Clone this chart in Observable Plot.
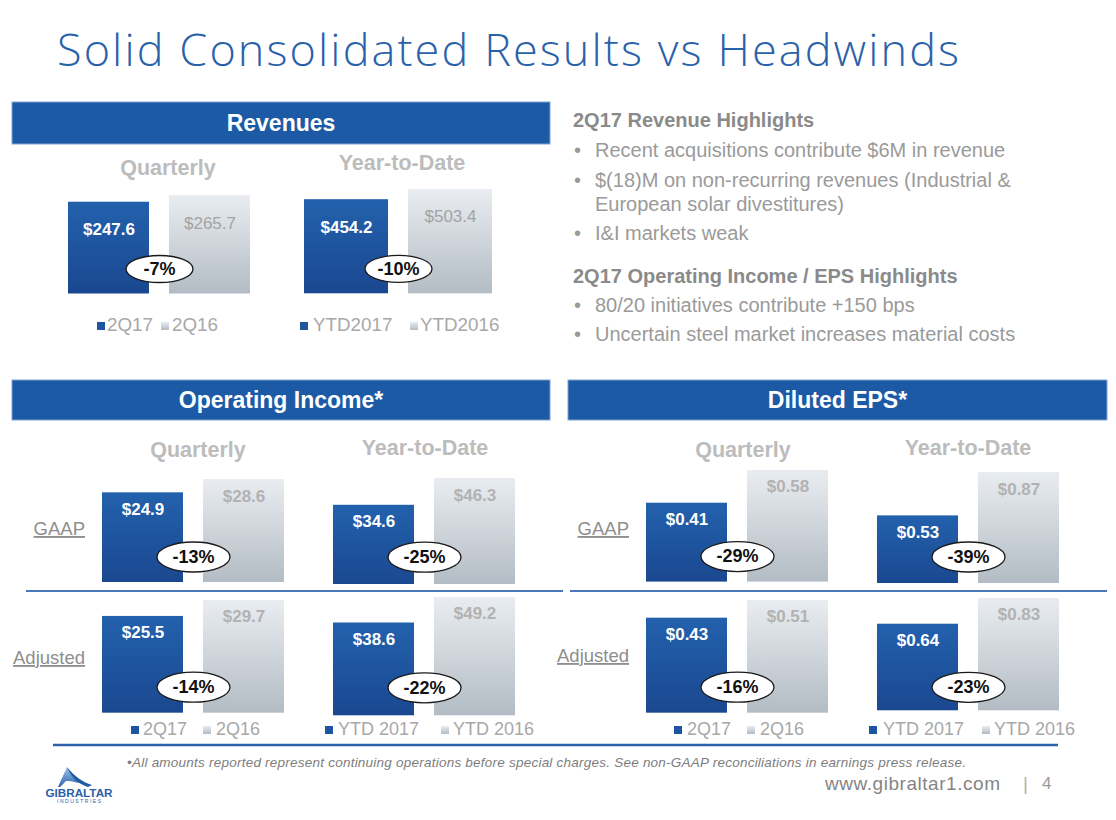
<!DOCTYPE html>
<html><head><meta charset="utf-8">
<script src="https://cdn.jsdelivr.net/npm/d3@7"></script>
<script src="https://cdn.jsdelivr.net/npm/@observablehq/plot@0.6"></script>
<style>
body{margin:0;background:#fff;}
#slide{position:relative;width:1116px;height:820px;overflow:hidden;background:#fff;font-family:"Liberation Sans",Arial,sans-serif;}
#slide svg.plotc{position:absolute;}
</style></head>
<body><div id="slide"></div>
<script>
// ---------- data ----------
const revQuarterCats = ["2Q17", "2Q16"];
const revYtdCats = ["YTD2017", "YTD2016"];
const quarterCats = ["2Q17", "2Q16"];
const ytdCats = ["YTD 2017", "YTD 2016"];
const revQuarterly = [247.6, 265.7];
const revYtd = [454.2, 503.4];
const revChange = ["-7%", "-10%"];
const oiGaapQuarterly = [24.9, 28.6];
const oiGaapYtd = [34.6, 46.3];
const oiAdjQuarterly = [25.5, 29.7];
const oiAdjYtd = [38.6, 49.2];
const oiGaapChange = ["-13%", "-25%"];
const oiAdjChange = ["-14%", "-22%"];
const epsGaapQuarterly = [0.41, 0.58];
const epsGaapYtd = [0.53, 0.87];
const epsAdjQuarterly = [0.43, 0.51];
const epsAdjYtd = [0.64, 0.83];
const epsGaapChange = ["-29%", "-39%"];
const epsAdjChange = ["-16%", "-23%"];
const revenueHighlights = ["Recent acquisitions contribute $6M in revenue", "$(18)M on non-recurring revenues (Industrial &", "European solar divestitures)", "I&I markets weak"];
const oiHighlights = ["80/20 initiatives contribute +150 bps", "Uncertain steel market increases material costs"];

const FONT = "Liberation Sans, Arial, sans-serif";
const slide = document.getElementById("slide");

// ---------- overlay (text & decoration) ----------
const svg = d3.select(slide).append("svg").attr("width", 1116).attr("height", 820)
  .style("position", "absolute").style("left", 0).style("top", 0);
const defs = svg.append("defs");
function grad(id, stops) {
  const g = defs.append("linearGradient").attr("id", id).attr("x1", 0).attr("y1", 0).attr("x2", 0).attr("y2", 1);
  stops.forEach(([o, c]) => g.append("stop").attr("offset", o).attr("stop-color", c));
}
grad("gBlue", [["0%", "#2361ad"], ["100%", "#1a4890"]]);
grad("gGray", [["0%", "#e9edf1"], ["100%", "#b3bcc4"]]);
grad("gLogo", [["0%", "#9fc3e6"], ["100%", "#2a64ad"]]);

function T(x, y, text, o = {}) {
  const t = svg.append("text").attr("x", x).attr("y", y).text(text)
    .attr("font-family", o.family || FONT).attr("font-size", o.size || 18)
    .attr("font-weight", o.weight || "normal").attr("fill", o.fill || "#999")
    .attr("text-anchor", o.anchor || "start");
  if (o.italic) t.attr("font-style", "italic");
  if (o.underline) t.attr("text-decoration", "underline");
  if (o.len) t.attr("textLength", o.len).attr("lengthAdjust", o.adjust || "spacing");
  return t;
}

// title
T(57, 66, "Solid Consolidated Results vs Headwinds", {family: "'Open Sans', sans-serif", size: 45, weight: 300, fill: "#2a62aa", len: 902});

// headers
function header(x, y, w, h, text) {
  svg.append("rect").attr("x", x).attr("y", y).attr("width", w).attr("height", h)
    .attr("fill", "#1c5aa5").attr("stroke", "#7fa4d4").attr("stroke-width", 1);
  T(x + w / 2, y + h / 2 + 8, text, {size: 23, weight: "bold", fill: "#ffffff", anchor: "middle"});
}
header(12, 102, 538, 42, "Revenues");
header(12, 380, 538, 40, "Operating Income*");
header(568, 380, 539, 40, "Diluted EPS*");

// section labels
const secStyle = {size: 21.5, weight: "bold", fill: "#bcbcbc", anchor: "middle"};
T(168, 175, "Quarterly", secStyle);
T(402, 170, "Year-to-Date", secStyle);
T(198, 457, "Quarterly", secStyle);
T(425, 455, "Year-to-Date", secStyle);
T(743, 457, "Quarterly", secStyle);
T(968, 455, "Year-to-Date", secStyle);

// row labels
const rowStyle = {size: 18.5, fill: "#8e8e8e", anchor: "end", underline: true};
T(85, 535, "GAAP", rowStyle);
T(85, 664, "Adjusted", rowStyle);
T(629, 535, "GAAP", rowStyle);
T(629, 662, "Adjusted", rowStyle);

// separators
svg.append("line").attr("x1", 26).attr("x2", 563).attr("y1", 591).attr("y2", 591).attr("stroke", "#4a77b9").attr("stroke-width", 2);
svg.append("line").attr("x1", 570).attr("x2", 1107).attr("y1", 591).attr("y2", 591).attr("stroke", "#4a77b9").attr("stroke-width", 2);
svg.append("line").attr("x1", 53).attr("x2", 1058).attr("y1", 745).attr("y2", 745).attr("stroke", "#2d62ab").attr("stroke-width", 2.5);

// highlights text
const hHead = {size: 20, weight: "bold", fill: "#8a8a8a"};
const hBody = {size: 20, fill: "#9a9a9a"};
T(573, 127, "2Q17 Revenue Highlights", hHead);
const revY = [157, 187, 211, 240];
revenueHighlights.forEach((s, i) => {
  if (i !== 2) T(574, revY[i], "•", hBody);
  T(595, revY[i], s, hBody);
});
T(573, 283, "2Q17 Operating Income / EPS Highlights", hHead);
const oiY = [312, 341];
oiHighlights.forEach((s, i) => { T(574, oiY[i], "•", hBody); T(595, oiY[i], s, hBody); });

// legends
function legend(items, y, size) {
  items.forEach(([sx, tx, label, blue]) => {
    svg.append("rect").attr("x", sx).attr("y", y - 9).attr("width", 8).attr("height", 8)
      .attr("fill", blue ? "#1e55a0" : "url(#gGray)");
    T(tx, y, label, {size: size, fill: "#a8a8a8"});
  });
}
legend([[97, 107, revQuarterCats[0], true], [161, 172, revQuarterCats[1], false],
        [300, 313, revYtdCats[0], true], [410, 420, revYtdCats[1], false]], 331, 18.8);
legend([[131, 143, quarterCats[0], true], [203, 216, quarterCats[1], false],
        [325, 338, ytdCats[0], true], [441, 453, ytdCats[1], false]], 735, 18);
legend([[674, 687, quarterCats[0], true], [747, 760, quarterCats[1], false],
        [869, 883, ytdCats[0], true], [982, 994, ytdCats[1], false]], 735, 18);

// footer
T(127, 767, "•All amounts reported represent continuing operations before special charges. See non-GAAP reconciliations in earnings press release.", {size: 13.5, italic: true, fill: "#7d7d7d", len: 839});
T(825, 790, "www.gibraltar1.com", {size: 19, fill: "#858585", len: 175});
T(1023, 790, "|", {size: 19, fill: "#b0b0b0"});
T(1042, 789, "4", {size: 17, fill: "#9a9a9a"});
// logo
svg.append("path").attr("d", "M58,787 L67,767 C72,774 80,781 90,786 C80,783 72,781 66,781 L60,787 Z").attr("fill", "url(#gLogo)");
svg.append("path").attr("d", "M67,767 C74,776 82,782 92,785 L88,787 C79,784 72,779 67,767 Z").attr("fill", "#1f5aa5");
T(79, 797, "GIBRALTAR", {size: 11.5, weight: "bold", fill: "#2a5fa8", anchor: "middle", len: 67, adjust: "spacingAndGlyphs"});
T(79, 803, "INDUSTRIES", {size: 5, fill: "#2a5fa8", anchor: "middle", len: 44});

// ---------- mini bar charts ----------
function ellipseSymbol(w, h) {
  return {draw(ctx) {
    const rx = w / 2, ry = h / 2, k = 0.5523;
    ctx.moveTo(rx, 0);
    ctx.bezierCurveTo(rx, ry * k, rx * k, ry, 0, ry);
    ctx.bezierCurveTo(-rx * k, ry, -rx, ry * k, -rx, 0);
    ctx.bezierCurveTo(-rx, -ry * k, -rx * k, -ry, 0, -ry);
    ctx.bezierCurveTo(rx * k, -ry, rx, -ry * k, rx, 0);
    ctx.closePath();
  }};
}

function mini(o) {
  const data = o.values.map((v, i) => ({i, v, label: o.fmt(v)}));
  const cur = data.filter(d => d.i === 0), prev = data.filter(d => d.i === 1);
  const chg = [{pos: 1, base: 0, label: o.change}];
  const top = 6;
  const H = o.hmax + top;
  const sym = ellipseSymbol(o.ellW, o.ellH);
  const p = Plot.plot({
    width: o.width, height: H,
    marginTop: top, marginBottom: 0, marginLeft: 0, marginRight: 0,
    x: {domain: [0, 2], axis: null},
    y: {domain: [0, d3.max(o.values)], axis: null},
    style: {background: "transparent", overflow: "visible", fontFamily: FONT},
    marks: [
      Plot.rect(cur, {x1: "i", x2: d => d.i + 1, y1: 0, y2: "v", insetLeft: 10, insetRight: 10, fill: "url(#gBlue)"}),
      Plot.rect(prev, {x1: "i", x2: d => d.i + 1, y1: 0, y2: "v", insetLeft: 10, insetRight: 10, fill: "url(#gGray)"}),
      Plot.text(cur, {x: d => d.i + 0.5, y: "v", text: "label", dy: o.labelDy, lineAnchor: "bottom", fill: "#ffffff", fontWeight: "bold", fontSize: 17}),
      Plot.text(prev, {x: d => d.i + 0.5, y: "v", text: "label", dy: o.labelDy, lineAnchor: "bottom", fill: o.grayBold ? "#b2b2b2" : "#a3a3a3", fontWeight: o.grayBold ? "bold" : "normal", fontSize: 17}),
      Plot.dot(chg, {x: "pos", y: "base", dy: -o.ellUp, symbol: sym, fill: "#ffffff", stroke: "#1a1a1a", strokeWidth: 1.3}),
      Plot.text(chg, {x: "pos", y: "base", dy: -o.ellUp, text: "label", fill: "#111111", fontWeight: "bold", fontSize: 18})
    ]
  });
  p.classList.add("plotc");
  p.style.left = o.left + "px";
  p.style.top = (o.bottom - H) + "px";
  slide.appendChild(p);
}

const money1 = v => "$" + v.toFixed(1);
const money2 = v => "$" + v.toFixed(2);
const base = {width: 202, labelDy: 22, grayBold: true, ellW: 73, ellH: 30};

mini({...base, values: revQuarterly, fmt: money1, change: revChange[0], left: 58, bottom: 293, hmax: 98.5, labelDy: 33, grayBold: false, ellW: 67, ellH: 27, ellUp: 25});
mini({...base, values: revYtd, fmt: money1, change: revChange[1], left: 294, width: 208, bottom: 293, hmax: 104.3, labelDy: 33, grayBold: false, ellW: 67, ellH: 27, ellUp: 25});

mini({...base, values: oiGaapQuarterly, fmt: money1, change: oiGaapChange[0], left: 92, bottom: 582, hmax: 103, ellUp: 25.5});
mini({...base, values: oiGaapYtd, fmt: money1, change: oiGaapChange[1], left: 323, bottom: 584, hmax: 106, ellUp: 27.3});
mini({...base, values: oiAdjQuarterly, fmt: money1, change: oiAdjChange[0], left: 92, bottom: 713, hmax: 112.7, ellUp: 26});
mini({...base, values: oiAdjYtd, fmt: money1, change: oiAdjChange[1], left: 323, bottom: 715, hmax: 118.3, ellUp: 28});

mini({...base, values: epsGaapQuarterly, fmt: money2, change: epsGaapChange[0], left: 636, bottom: 582, hmax: 111.6, ellUp: 25.5});
mini({...base, values: epsGaapYtd, fmt: money2, change: epsGaapChange[1], left: 867, bottom: 583, hmax: 111, ellUp: 26.5});
mini({...base, values: epsAdjQuarterly, fmt: money2, change: epsAdjChange[0], left: 636, bottom: 713, hmax: 112.7, ellUp: 26});
mini({...base, values: epsAdjYtd, fmt: money2, change: epsAdjChange[1], left: 867, bottom: 710, hmax: 112.3, ellUp: 23.5});
</script>
</body></html>
